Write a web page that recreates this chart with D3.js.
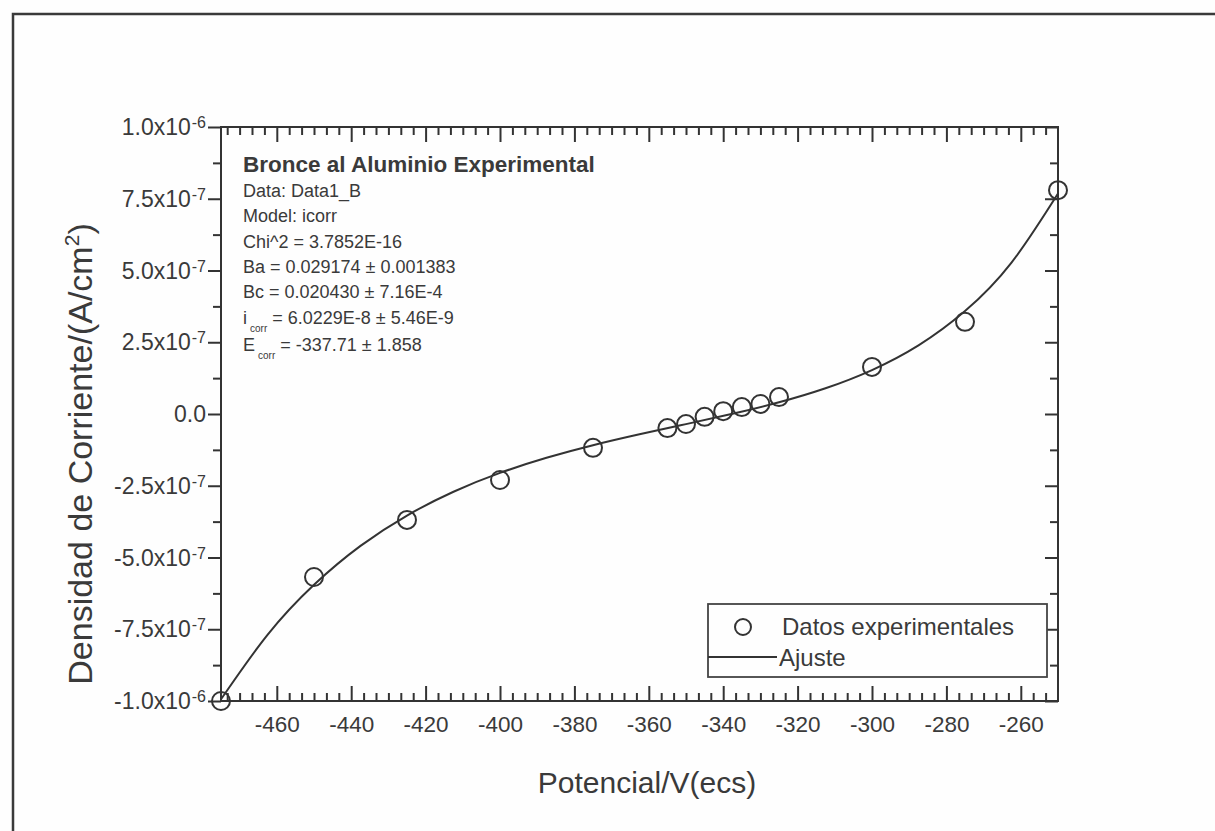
<!DOCTYPE html>
<html>
<head>
<meta charset="utf-8">
<script src="https://cdn.jsdelivr.net/npm/d3@7"></script>
<style>
  html, body { margin: 0; padding: 0; background: #fefefe; }
  svg { display: block; }
  text { font-family: "Liberation Sans", Arial, sans-serif; fill: #3a3a3a; }
</style>
</head>
<body>
<svg id="chart" width="1215" height="831"></svg>
<script>
// Measured polarization points (potential in mV vs SCE, current density in A/cm²)
const potential = [-475, -450, -425, -400, -375, -355, -350, -345, -340, -335, -330, -325, -300, -275, -250];
const currentDensity = [-1.0e-6, -5.68e-7, -3.69e-7, -2.30e-7, -1.18e-7, -4.9e-8, -3.5e-8, -1.0e-8,
                        1.0e-8, 2.4e-8, 3.5e-8, 5.9e-8, 1.64e-7, 3.21e-7, 7.80e-7];

// Fitted curve (icorr model) sampled along the potential range
const fitPotential = [-475, -462.5, -450, -437.5, -425, -412.5, -400, -387.5, -375, -362.5,
                      -350, -337.5, -325, -312.5, -300, -287.5, -275, -262.5, -250];
const fitCurrent = [-9.941e-7, -7.694e-7, -5.949e-7, -4.594e-7, -3.537e-7, -2.708e-7, -2.053e-7,
                    -1.525e-7, -1.087e-7, -7.07e-8, -3.53e-8, 6e-10, 4.08e-8, 8.97e-8, 1.531e-7,
                    2.390e-7, 3.585e-7, 5.275e-7, 7.682e-7];

// Axis ticks and labels
const xTicks = [-460, -440, -420, -400, -380, -360, -340, -320, -300, -280, -260];
const yTicks = [-1.0e-6, -7.5e-7, -5.0e-7, -2.5e-7, 0, 2.5e-7, 5.0e-7, 7.5e-7, 1.0e-6];
const yTickMantissa = ["-1.0", "-7.5", "-5.0", "-2.5", "0.0", "2.5", "5.0", "7.5", "1.0"];
const yTickExponent = ["-6", "-7", "-7", "-7", null, "-7", "-7", "-7", "-6"];

// Fit report
const fitTitle = "Bronce al Aluminio Experimental";
const fitLines = ["Data: Data1_B", "Model: icorr", "Chi^2 = 3.7852E-16",
                  "Ba = 0.029174 \u00B1 0.001383", "Bc = 0.020430 \u00B1 7.16E-4"];
const fitSubLines = [["i", "corr", " = 6.0229E-8 \u00B1 5.46E-9"],
                     ["E", "corr", " = -337.71 \u00B1 1.858"]];

const legendLabels = ["Datos experimentales", "Ajuste"];

const ink = "#333";
const svg = d3.select("#chart");

// Outer page frame
svg.append("path")
  .attr("d", "M13,840 L13,14 L1225,14")
  .attr("fill", "none").attr("stroke", "#3a3a3a").attr("stroke-width", 2.5);

const plot = { left: 221, right: 1058, top: 127, bottom: 701 };

const x = d3.scaleLinear().domain([-475, -250]).range([plot.left, plot.right]);
const y = d3.scaleLinear().domain([-1.0e-6, 1.0e-6]).range([plot.bottom, plot.top]);

// Minor tick positions
const xMinor = [];
for (let m = -480; m < -240; m += 20) {
  for (let k = 1; k < 6; k++) {
    const v = m + k * 20 / 6;
    if (v > -475 && v < -250) xMinor.push(v);
  }
}
const yMinor = yTicks.slice(0, -1).map(v => v + 1.25e-7);

function styleAxis(g) {
  g.select(".domain").remove();
  g.selectAll("line").attr("stroke", ink).attr("stroke-width", 2);
}

// Bottom axis: ticks point inward
svg.append("g").attr("transform", `translate(0,${plot.bottom})`)
  .call(d3.axisBottom(x).tickValues(xMinor).tickSize(-8).tickFormat(""))
  .call(styleAxis);
const xAxis = svg.append("g").attr("transform", `translate(0,${plot.bottom})`)
  .call(d3.axisBottom(x).tickValues(xTicks).tickSize(-15).tickFormat(d => d))
  .call(styleAxis);
xAxis.selectAll("text")
  .attr("font-size", 22.5).attr("fill", "#3a3a3a")
  .attr("font-family", "Liberation Sans, Arial, sans-serif")
  .attr("dy", null).attr("y", 31);

// Top axis: mirrored ticks, no labels
svg.append("g").attr("transform", `translate(0,${plot.top})`)
  .call(d3.axisTop(x).tickValues(xMinor).tickSize(-8).tickFormat(""))
  .call(styleAxis);
svg.append("g").attr("transform", `translate(0,${plot.top})`)
  .call(d3.axisTop(x).tickValues(xTicks).tickSize(-15).tickFormat(""))
  .call(styleAxis);

// Left axis: ticks point outward
svg.append("g").attr("transform", `translate(${plot.left},0)`)
  .call(d3.axisLeft(y).tickValues(yMinor).tickSize(8).tickFormat(""))
  .call(styleAxis);
svg.append("g").attr("transform", `translate(${plot.left},0)`)
  .call(d3.axisLeft(y).tickValues(yTicks).tickSize(13).tickFormat(""))
  .call(styleAxis);

// Right axis: ticks point inward
svg.append("g").attr("transform", `translate(${plot.right},0)`)
  .call(d3.axisRight(y).tickValues(yMinor).tickSize(-8).tickFormat(""))
  .call(styleAxis);
svg.append("g").attr("transform", `translate(${plot.right},0)`)
  .call(d3.axisRight(y).tickValues(yTicks).tickSize(-13).tickFormat(""))
  .call(styleAxis);

// Y tick labels in scientific notation with superscript exponent
const yLab = svg.append("g");
yTicks.forEach((v, i) => {
  const t = yLab.append("text")
    .attr("x", plot.left - 15).attr("y", y(v) + 8)
    .attr("text-anchor", "end").attr("font-size", 23);
  if (yTickExponent[i]) {
    t.append("tspan").text(yTickMantissa[i] + "x10");
    t.append("tspan").attr("font-size", 16).attr("dy", -7).attr("dx", 1).text(yTickExponent[i]);
  } else {
    t.text(yTickMantissa[i]);
  }
});

// Plot frame
svg.append("rect")
  .attr("x", plot.left).attr("y", plot.top)
  .attr("width", plot.right - plot.left).attr("height", plot.bottom - plot.top)
  .attr("fill", "none").attr("stroke", ink).attr("stroke-width", 2);

// Fitted curve
const line = d3.line().x((d, i) => x(fitPotential[i])).y(d => y(d)).curve(d3.curveNatural);
svg.append("path").datum(fitCurrent)
  .attr("d", line).attr("fill", "none").attr("stroke", ink).attr("stroke-width", 2);

// Experimental points
svg.append("g").selectAll("circle").data(currentDensity).join("circle")
  .attr("cx", (d, i) => x(potential[i])).attr("cy", d => y(d)).attr("r", 9)
  .attr("fill", "none").attr("stroke", ink).attr("stroke-width", 2);

// Axis titles
svg.append("text").attr("x", 647).attr("y", 793).attr("text-anchor", "middle")
  .attr("font-size", 30).text("Potencial/V(ecs)");
const yt = svg.append("text").attr("transform", "translate(92,454) rotate(-90)")
  .attr("text-anchor", "middle").attr("font-size", 34);
yt.append("tspan").text("Densidad de Corriente/(A/cm");
yt.append("tspan").attr("font-size", 21).attr("dy", -13).text("2");
yt.append("tspan").attr("dy", 13).text(")");

// Fit report text
const rep = svg.append("g").attr("transform", "translate(243,0)");
rep.append("text").attr("y", 172).attr("font-size", 22.5).attr("font-weight", "bold").text(fitTitle);
fitLines.forEach((s, i) => {
  rep.append("text").attr("y", 197 + i * 25.3).attr("font-size", 18).text(s);
});
fitSubLines.forEach((s, i) => {
  const t = rep.append("text").attr("y", 324 + i * 27).attr("font-size", 18);
  t.append("tspan").text(s[0]);
  t.append("tspan").attr("font-size", 10).attr("dy", 8).attr("dx", 3).text(s[1]);
  t.append("tspan").attr("dy", -8).text(s[2]);
});

// Legend
const lg = svg.append("g");
lg.append("rect").attr("x", 708).attr("y", 604).attr("width", 339).attr("height", 73)
  .attr("fill", "#fefefe").attr("stroke", "#444").attr("stroke-width", 1.8);
lg.append("circle").attr("cx", 743).attr("cy", 627).attr("r", 8)
  .attr("fill", "none").attr("stroke", ink).attr("stroke-width", 2);
lg.append("text").attr("x", 782).attr("y", 635).attr("font-size", 24).text(legendLabels[0]);
lg.append("line").attr("x1", 708).attr("x2", 777).attr("y1", 657).attr("y2", 657)
  .attr("stroke", ink).attr("stroke-width", 2);
lg.append("text").attr("x", 779).attr("y", 666).attr("font-size", 24).text(legendLabels[1]);
</script>
</body>
</html>
